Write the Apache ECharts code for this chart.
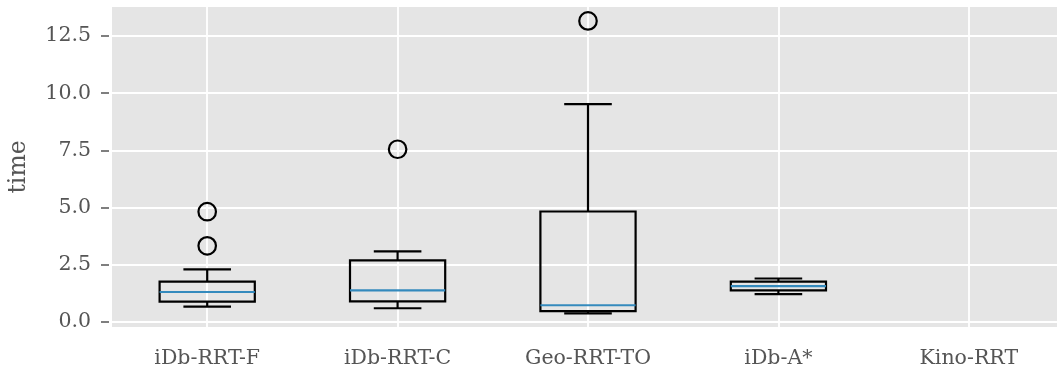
<!DOCTYPE html>
<html>
<head>
<meta charset="utf-8">
<script src="https://cdn.jsdelivr.net/npm/echarts@6/dist/echarts.min.js"></script>
<style>
  html, body { margin: 0; padding: 0; background: #fff; }
  #chart { width: 1057px; height: 369px; }
</style>
</head>
<body>
<div id="chart"></div>
<script>
// box stats (Kino-RRT has no data)
var categories = ['iDb-RRT-F', 'iDb-RRT-C', 'Geo-RRT-TO', 'iDb-A*', 'Kino-RRT'];
var whiskerLow = [0.67, 0.60, 0.38, 1.22, null];
var q1 = [0.89, 0.90, 0.47, 1.38, null];
var median = [1.31, 1.38, 0.73, 1.57, null];
var q3 = [1.76, 2.69, 4.83, 1.76, null];
var whiskerHigh = [2.30, 3.09, 9.52, 1.90, null];
var outliers = [[0, 3.33], [0, 4.82], [1, 7.55], [2, 13.16]];
var yTicks = [0, 2.5, 5, 7.5, 10, 12.5];

var textColor = '#555555';
var font = 'DejaVu Serif';

var boxData = [];
for (var i = 0; i < categories.length; i++) {
    if (median[i] == null) continue;
    boxData.push([i, whiskerLow[i], q1[i], median[i], q3[i], whiskerHigh[i]]);
}

// vertical grid lines sit on category centres: use a hidden axis with 2n+1 slots
var halfSlots = [];
for (var j = 0; j <= categories.length * 2; j++) halfSlots.push(String(j));

function renderBox(params, api) {
    var x = api.value(0);
    var bw = api.size([1, 0])[0];
    var lo = api.coord([x, api.value(1)]);
    var b1 = api.coord([x, api.value(2)]);
    var md = api.coord([x, api.value(3)]);
    var b3 = api.coord([x, api.value(4)]);
    var hi = api.coord([x, api.value(5)]);
    var cx = lo[0];
    var boxHalf = bw * 0.25;
    var capHalf = bw * 0.125;
    var black = { stroke: '#000', lineWidth: 2.2, fill: null };
    return {
        type: 'group',
        children: [
            { type: 'rect', shape: { x: cx - boxHalf, y: b3[1], width: boxHalf * 2, height: b1[1] - b3[1] }, style: black },
            { type: 'line', shape: { x1: cx, y1: b3[1], x2: cx, y2: hi[1] }, style: black },
            { type: 'line', shape: { x1: cx, y1: b1[1], x2: cx, y2: lo[1] }, style: black },
            { type: 'line', shape: { x1: cx - capHalf, y1: hi[1], x2: cx + capHalf, y2: hi[1] }, style: black },
            { type: 'line', shape: { x1: cx - capHalf, y1: lo[1], x2: cx + capHalf, y2: lo[1] }, style: black },
            { type: 'line', shape: { x1: cx - boxHalf, y1: md[1], x2: cx + boxHalf, y2: md[1] }, style: { stroke: '#348ABD', lineWidth: 2.2 } }
        ]
    };
}

var chart = echarts.init(document.getElementById('chart'), null, { renderer: 'canvas' });

chart.setOption({
    animation: false,
    grid: {
        show: true,
        left: 112,
        top: 7,
        width: 952,
        height: 320,
        outerBoundsMode: 'none',
        containLabel: false,
        backgroundColor: '#E5E5E5',
        borderWidth: 0
    },
    xAxis: [
        {
            type: 'category',
            data: categories,
            boundaryGap: true,
            offset: 3,
            axisLine: { show: false },
            axisTick: { alignWithLabel: true, length: 6, lineStyle: { color: textColor, width: 1.5 } },
            axisLabel: { color: textColor, fontFamily: font, fontSize: 20.5, margin: 18 },
            splitLine: { show: false }
        },
        {
            type: 'category',
            data: halfSlots,
            boundaryGap: false,
            axisLine: { show: false },
            axisTick: { show: false },
            axisLabel: { show: false },
            splitLine: {
                show: true,
                interval: function (idx) { return idx % 2 === 1; },
                lineStyle: { color: '#ffffff', width: 1.8 }
            }
        }
    ],
    yAxis: {
        type: 'value',
        min: -0.22,
        max: 13.77,
        offset: 3,
        name: 'time',
        nameLocation: 'middle',
        nameGap: 78,
        nameTextStyle: { color: textColor, fontFamily: font, fontSize: 23.5 },
        axisLine: { show: false },
        axisTick: { show: true, length: 8, customValues: yTicks, lineStyle: { color: textColor, width: 1.5 } },
        axisLabel: {
            color: textColor, fontFamily: font, fontSize: 20.5, margin: 18,
            customValues: yTicks,
            formatter: function (v) { return v.toFixed(1); }
        },
        splitLine: { show: true, lineStyle: { color: '#ffffff', width: 1.8 } }
    },
    series: [
        {
            type: 'custom',
            xAxisIndex: 0,
            renderItem: renderBox,
            encode: { x: 0, y: [1, 2, 3, 4, 5] },
            data: boxData,
            z: 3
        },
        {
            type: 'scatter',
            xAxisIndex: 0,
            symbol: 'circle',
            symbolSize: 17.5,
            itemStyle: { color: 'rgba(0,0,0,0)', borderColor: '#000', borderWidth: 2.2, opacity: 1 },
            data: outliers,
            z: 4
        }
    ]
});
</script>
</body>
</html>
